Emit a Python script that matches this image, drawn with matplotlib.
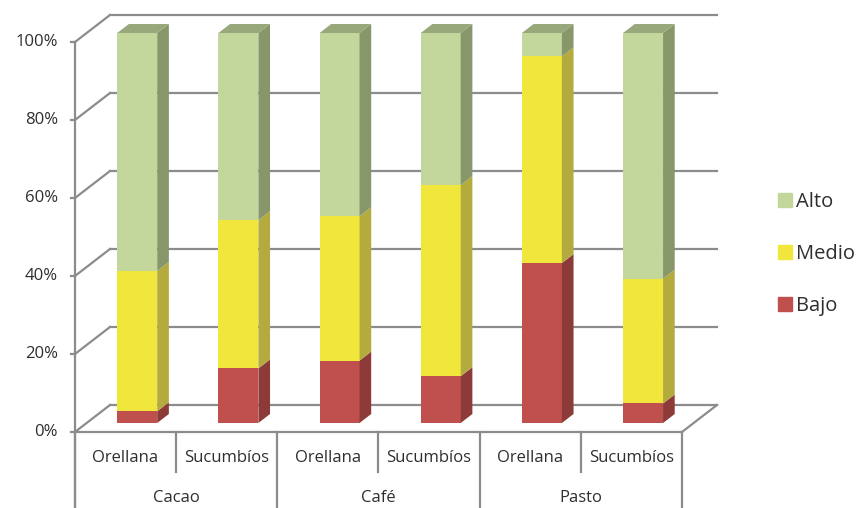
import numpy as np
import matplotlib.pyplot as plt
from matplotlib.patches import Polygon, Patch

plt.rcParams['font.family'] = ['Open Sans', 'DejaVu Sans']

# datos (porcentaje)
grupos = ['Cacao', 'Café', 'Pasto']
zonas = ['Orellana', 'Sucumbíos', 'Orellana', 'Sucumbíos', 'Orellana', 'Sucumbíos']
bajo = np.array([3, 14, 16, 12, 41, 5])
medio = np.array([36, 38, 37, 49, 53, 32])
alto = np.array([61, 48, 47, 39, 6, 63])
ticks = [0, 20, 40, 60, 80, 100]

series = [('Bajo', bajo, '#C0504D', '#8C3B39', '#A04442'),
          ('Medio', medio, '#F0E63C', '#B3AB3E', '#CFC63C'),
          ('Alto', alto, '#C3D69B', '#87976A', '#98A87A')]

# profundidad del efecto 3D (unidades de datos)
DX, DY = 0.346, 6.92
W = 0.395
gris = '#8C8C8C'
txt = '#2E2E2E'

fig = plt.figure(figsize=(8.65, 5.08), dpi=100)
ax = fig.add_axes([0, 0, 1, 1])
ax.set_xlim(-0.741, 7.809)
ax.set_ylim(-19.49, 110.77)
ax.axis('off')

n = len(zonas)
# paredes: rejilla del fondo y de la pared izquierda
for v in ticks:
    ax.plot([DX, n + DX], [v + DY, v + DY], color=gris, lw=1.6, zorder=1)
    ax.plot([0, DX], [v, v + DY], color=gris, lw=1.6, zorder=1)
    ax.plot([-0.04, 0], [v, v], color=gris, lw=1.6, zorder=1)
    ax.text(-0.17, v, f'{v}%', ha='right', va='center', fontsize=12, color=txt)
ax.plot([n, n + DX], [0, DY], color=gris, lw=1.6, zorder=1)
ax.plot([0, 0], [-19.49, 100], color=gris, lw=1.6, zorder=1)
ax.plot([0, n], [0, 0], color=gris, lw=1.6, zorder=1)

# barras apiladas con caras laterales
x = np.arange(n) + 0.5 + DX / 3
d = DY / 3
bottom = np.zeros(n)
for k, (nombre, vals, cf, cs, ct) in enumerate(series):
    ax.bar(x, vals, W, bottom=bottom + d, color=cf, linewidth=0, zorder=3)
    for i in range(n):
        xr = x[i] + W / 2
        b, t = bottom[i] + d, bottom[i] + vals[i] + d
        ax.add_patch(Polygon([(xr, b), (xr + DX / 3, b + d), (xr + DX / 3, t + d), (xr, t)],
                             closed=True, facecolor=cs, lw=0, zorder=3))
        if k == len(series) - 1:
            xl = x[i] - W / 2
            ax.add_patch(Polygon([(xl, t), (xr, t), (xr + DX / 3, t + d), (xl + DX / 3, t + d)],
                                 closed=True, facecolor=ct, lw=0, zorder=3))
    bottom = bottom + vals

# eje de categorías
for i in range(n + 1):
    y0 = -19.49 if i % 2 == 0 else -10.3
    ax.plot([i, i], [0, y0], color=gris, lw=1.6, zorder=1)
for i, z in enumerate(zonas):
    ax.text(i + 0.5, -6.6, z, ha='center', va='center', fontsize=12, color=txt)
for g, nombre in enumerate(grupos):
    ax.text(2 * g + 1, -16.9, nombre, ha='center', va='center', fontsize=12, color=txt)

# leyenda
handles = [Patch(color=s[2]) for s in series[::-1]]
labels = [s[0] for s in series[::-1]]
fig.legend(handles, labels, loc='center left', bbox_to_anchor=(768 / 865, 1 - 254 / 508),
           frameon=False, fontsize=14.5, labelspacing=1.6, handlelength=0.7,
           handleheight=0.7, handletextpad=0.2, borderpad=0, labelcolor=txt)

fig.savefig('out.png', dpi=100)
